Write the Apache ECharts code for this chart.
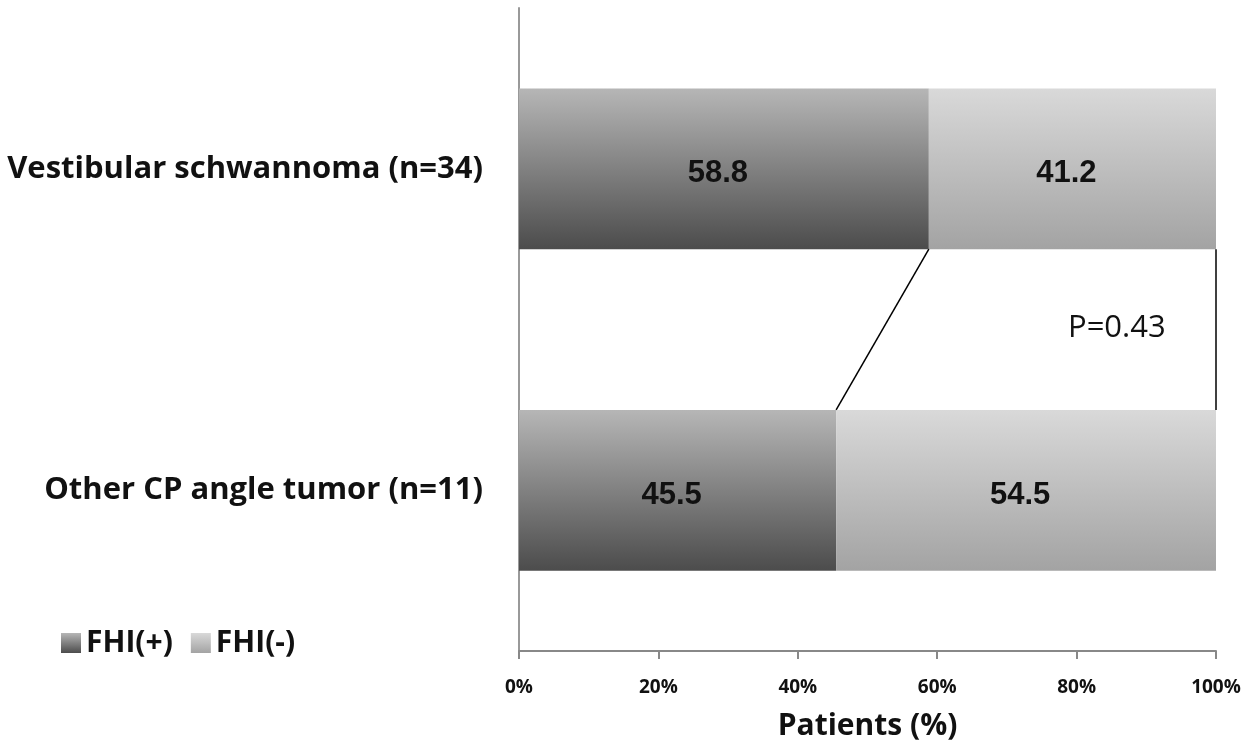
<!DOCTYPE html>
<html>
<head>
<meta charset="utf-8">
<script src="https://cdn.jsdelivr.net/npm/echarts@6/dist/echarts.min.js"></script>
<style>html,body{margin:0;padding:0;background:#fff}#c{width:1250px;height:752px}</style>
</head>
<body>
<div id="c"></div>
<script>
// Data (bottom-to-top order for category axis)
const categories = ['Other CP angle tumor (n=11)', 'Vestibular schwannoma (n=34)'];
const fhiPos = [45.5, 58.8];
const fhiNeg = [54.5, 41.2];
const xTicks = [0, 20, 40, 60, 80, 100];
const pValueText = 'P=0.43';

const chart = echarts.init(document.getElementById('c'));
const darkGrad = new echarts.graphic.LinearGradient(0, 0, 0, 1, [
  {offset: 0, color: '#b6b6b6'}, {offset: 1, color: '#4c4c4c'}]);
const lightGrad = new echarts.graphic.LinearGradient(0, 0, 0, 1, [
  {offset: 0, color: '#d9d9d9'}, {offset: 1, color: '#a3a3a3'}]);

// connector lines: from top bar's bottom edge (1.25) to bottom bar's top edge (0.75) on helper value axis
const connector1 = [[fhiPos[1], 1.25], [fhiPos[0], 0.75]];
const connector2 = [[xTicks[xTicks.length - 1], 1.25], [xTicks[xTicks.length - 1], 0.75]];

const labelFont = {fontFamily: 'Liberation Sans, Arial, sans-serif', fontWeight: 'bold', fontSize: 31, color: '#111', offset: [-6, 5]};

chart.setOption({
  animation: false,
  grid: {left: 519, right: 34, top: 8, bottom: 101},
  legend: {
    left: 56, top: 623,
    itemWidth: 20, itemHeight: 20, itemGap: 18,
    icon: 'rect',
    textStyle: {fontFamily: 'Open Sans, sans-serif', fontWeight: 'bold', fontSize: 30, color: '#111'},
    data: ['FHI(+)', 'FHI(-)']
  },
  xAxis: [{
    type: 'value', min: 0, max: 100, interval: 20,
    axisLine: {show: true, lineStyle: {color: '#888', width: 2}},
    axisTick: {show: true, length: 8, lineStyle: {color: '#888', width: 2}},
    splitLine: {show: false},
    axisLabel: {formatter: v => v + '%', margin: 27, fontFamily: 'Open Sans, sans-serif', fontWeight: 'bold', fontSize: 19, color: '#111'},
    name: 'Patients (%)', nameLocation: 'middle', nameGap: 60,
    nameTextStyle: {fontFamily: 'Open Sans, sans-serif', fontWeight: 'bold', fontSize: 30, color: '#111'}
  }],
  yAxis: [{
    type: 'category', data: categories,
    axisLine: {show: true, lineStyle: {color: '#999', width: 2}},
    axisTick: {show: false},
    axisLabel: {margin: 36, fontFamily: 'Open Sans, sans-serif', fontWeight: 'bold', fontSize: 31, color: '#111'}
  }, {
    type: 'value', min: 0, max: 2, show: false
  }],
  series: [{
    name: 'FHI(+)', type: 'bar', stack: 's', data: fhiPos, barWidth: '50%',
    itemStyle: {color: darkGrad},
    label: {show: true, position: 'inside', formatter: p => p.value.toFixed(1), ...labelFont}
  }, {
    name: 'FHI(-)', type: 'bar', stack: 's', data: fhiNeg, barWidth: '50%',
    itemStyle: {color: lightGrad},
    label: {show: true, position: 'inside', formatter: p => p.value.toFixed(1), ...labelFont}
  }, {
    type: 'line', yAxisIndex: 1, data: connector1, symbol: 'none',
    lineStyle: {color: '#000', width: 1.5}, silent: true
  }, {
    type: 'line', yAxisIndex: 1, data: connector2, symbol: 'none',
    lineStyle: {color: '#000', width: 1.5}, silent: true
  }],
  graphic: [{
    type: 'text', left: 1068, top: 313,
    style: {text: pValueText, fontFamily: 'Open Sans, sans-serif', fontSize: 31, fill: '#111'}
  }]
});
</script>
</body>
</html>
